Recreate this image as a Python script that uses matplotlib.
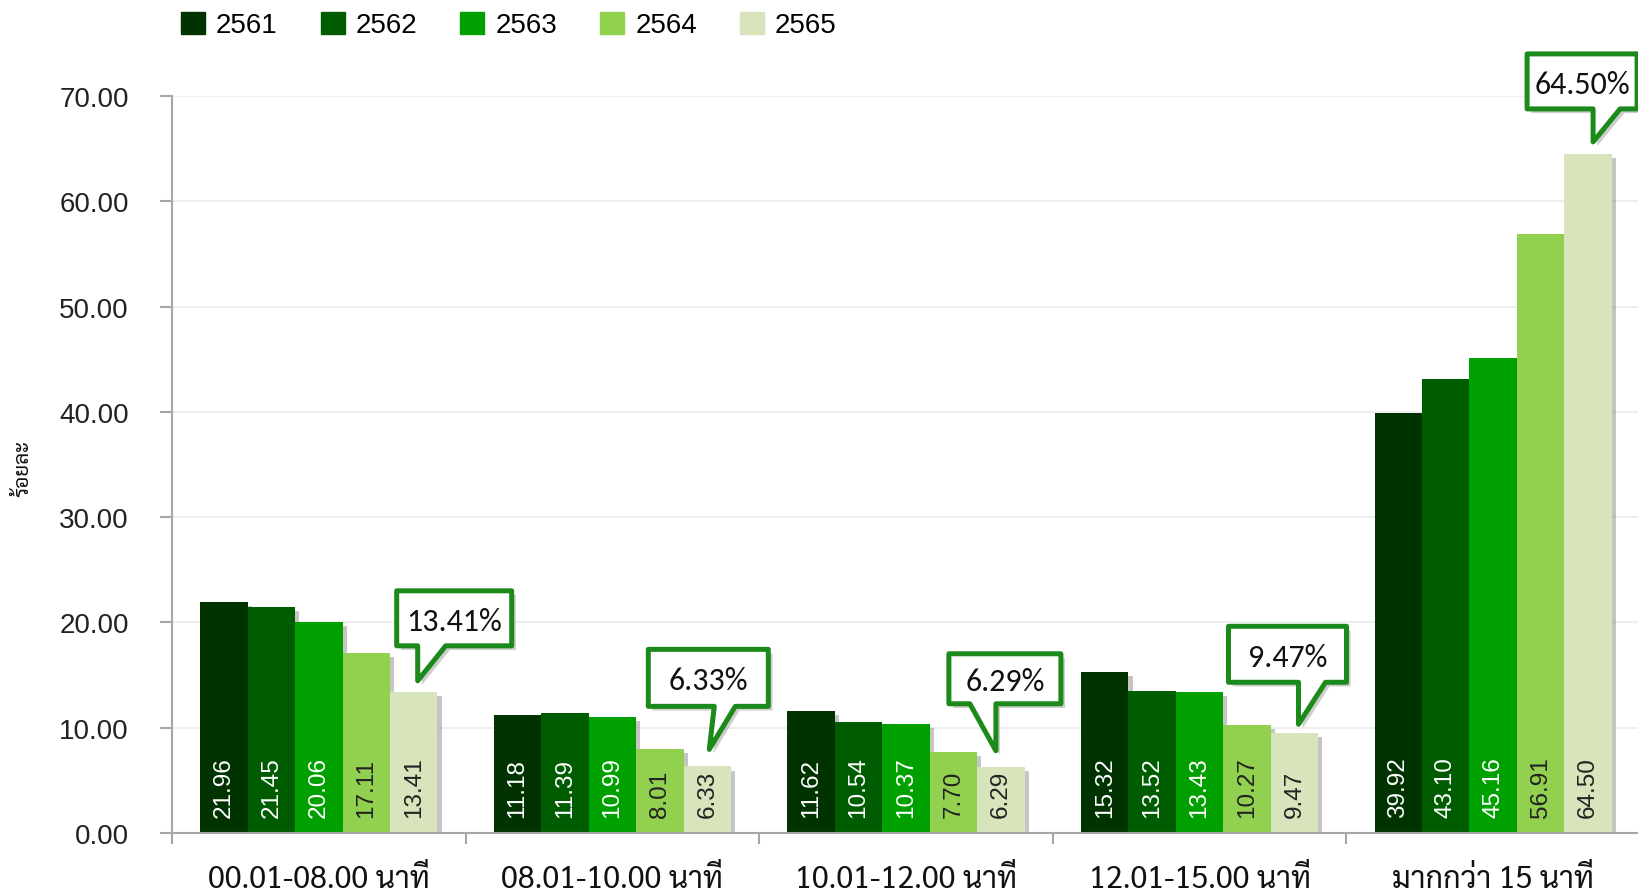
import matplotlib
matplotlib.use("Agg")
import matplotlib.pyplot as plt
import matplotlib.patches as mpatches
import matplotlib.patheffects as pe
from matplotlib.transforms import IdentityTransform
import numpy as np

# ---------------- data ----------------
categories = ["00.01-08.00 นาที", "08.01-10.00 นาที", "10.01-12.00 นาที",
              "12.01-15.00 นาที", "มากกว่า 15 นาที"]
years = ["2561", "2562", "2563", "2564", "2565"]
v2561 = [21.96, 11.18, 11.62, 15.32, 39.92]
v2562 = [21.45, 11.39, 10.54, 13.52, 43.10]
v2563 = [20.06, 10.99, 10.37, 13.43, 45.16]
v2564 = [17.11, 8.01, 7.70, 10.27, 56.91]
v2565 = [13.41, 6.33, 6.29, 9.47, 64.50]
series = [v2561, v2562, v2563, v2564, v2565]
y_ticks = [0, 10, 20, 30, 40, 50, 60, 70]
y_label = "ร้อยละ"

# ---------------- style ----------------
colors = ["#003300", "#005c00", "#00a000", "#92d050", "#d8e4bc"]
label_colors = ["white", "white", "white", "#222222", "#222222"]
# callout geometry in pixels relative to the tip: (tip_dx, tip_dy, left, right, bottom, top, base0, base1)
callout_geom = [
    (4, 11, -21, 94, 35, 90, 0, 28),
    (2, 17, -61, 59, 43, 100, 5, 26),
    (-5, 16, -47, 65, 47, 97, -26, 0),
    (4, 9, -70, 48, 42, 98, 0, 27),
    (5, 12, -66, 44, 33, 88, 0, 27),
]
num_font = ["Liberation Sans", "DejaVu Sans"]
thai_font = ["Sarabun", "Noto Sans Thai Looped", "DejaVu Sans"]
callout_font = ["Carlito", "Lato", "DejaVu Sans"]
green_edge = "#1b8a1b"
axis_gray = "#a6a6a6"

W, H, DPI = 1638, 895, 100
fig = plt.figure(figsize=(W / DPI, H / DPI), dpi=DPI)
ax = fig.add_axes([172 / W, 1 - 834 / H, 1468 / W, 737 / H])

n = len(series)
group_w = 0.808
bw = group_w / n
x = np.arange(len(categories))

shadow = [pe.SimplePatchShadow(offset=(3, -3), shadow_rgbFace="#808080", alpha=0.45), pe.Normal()]
bar_containers = []
for i, (vals, c) in enumerate(zip(series, colors)):
    xs = x - group_w / 2 + bw * (i + 0.5)
    bars = ax.bar(xs, vals, width=bw, color=c, zorder=3, label=years[i], linewidth=0)
    for b in bars:
        b.set_path_effects(shadow)
    bar_containers.append(bars)
    for xi, v in zip(xs, vals):
        ax.annotate(f"{v:.2f}", xy=(xi, 0), xytext=(0, 11.5), textcoords="offset points",
                    rotation=90, ha="center", va="bottom", fontsize=17.5,
                    color=label_colors[i], family=num_font, zorder=5)

ax.set_xlim(-0.5, len(categories) - 0.5)
ax.set_ylim(0, 70)
ax.set_yticks(y_ticks)
ax.set_yticklabels([f"{t:.2f}" for t in y_ticks], family=num_font, fontsize=20, color="#222222")
ax.tick_params(axis="y", length=9, width=1.5, color=axis_gray, pad=22)
ax.set_xticks(x)
ax.set_xticklabels(categories, family=thai_font, fontsize=22, color="#111111")
ax.tick_params(axis="x", which="major", length=0, pad=22)
ax.set_xticks(np.arange(len(categories) + 1) - 0.5, minor=True)
ax.tick_params(axis="x", which="minor", length=8, width=1.5, color=axis_gray)
for s in ["top", "right"]:
    ax.spines[s].set_visible(False)
for s in ["left", "bottom"]:
    ax.spines[s].set_color(axis_gray)
    ax.spines[s].set_linewidth(1.5)
    ax.spines[s].set_zorder(6)
ax.yaxis.grid(True, color="#eeeeee", linewidth=1.5, zorder=0)
ax.set_axisbelow(True)

# y label
fig.text(23 / W, 1 - 468 / H, y_label, rotation=90, ha="center", va="center",
         fontsize=15, family=thai_font, color="#111111")

# legend
handles = [mpatches.Patch(color=c, label=y) for c, y in zip(colors, years)]
leg = fig.legend(handles=handles, loc="center left", bbox_to_anchor=(181 / W, 1 - 26 / H),
                 ncol=5, frameon=False, prop={"family": num_font, "size": 20},
                 handlelength=0.86, handleheight=0.86, handletextpad=0.4,
                 columnspacing=1.55, borderpad=0, borderaxespad=0)

# callouts on last series
last_bars = bar_containers[-1]
for b, v, g in zip(last_bars, series[-1], callout_geom):
    tdx, tdy, L, R, B, T, b0, b1 = g
    cx = b.get_x() + b.get_width() / 2
    px, py = ax.transData.transform((cx, v))
    tx, ty = px + tdx, py + tdy
    verts = [
        (tx + L, ty + T), (tx + R, ty + T), (tx + R, ty + B),
        (tx + b1, ty + B), (tx, ty), (tx + b0, ty + B), (tx + L, ty + B),
    ]
    poly = mpatches.Polygon(verts, closed=True, transform=IdentityTransform(),
                            facecolor="white", edgecolor=green_edge, linewidth=3.6,
                            joinstyle="round", zorder=8, clip_on=False)
    poly.set_path_effects([pe.SimplePatchShadow(offset=(3, -3), shadow_rgbFace="#909090", alpha=0.45), pe.Normal()])
    fig.add_artist(poly)
    fig.text(tx + (L + R) / 2, ty + (B + T) / 2, f"{v:.2f}%", transform=IdentityTransform(),
             ha="center", va="center_baseline", fontsize=23, family=callout_font,
             color="#111111", zorder=9)

fig.savefig("out.png", dpi=DPI)
